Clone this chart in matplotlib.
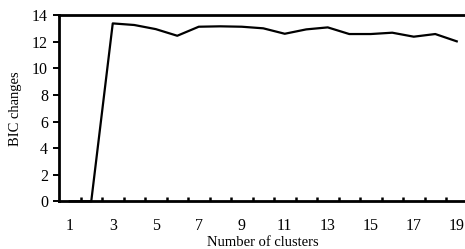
import numpy as np
import matplotlib.pyplot as plt

plt.rcParams['font.family'] = ['Liberation Serif', 'DejaVu Serif']

clusters = list(range(1, 20))
bic_changes = [0, 0, 13.39, 13.27, 12.96, 12.46, 13.14, 13.17, 13.14, 13.02,
               12.61, 12.94, 13.09, 12.59, 12.59, 12.69, 12.39, 12.59, 12.04]
x_labels = [str(c) for c in clusters[::2]]

fig = plt.figure(figsize=(4.65, 2.49), dpi=100)
ax = fig.add_axes([59 / 465, 1 - 201.3 / 249, 408.5 / 465, 186 / 249])

ax.plot(clusters, bic_changes, color='black', lw=1.6, clip_on=False)

ax.set_xlim(0.5, 19.5)
ax.set_ylim(0, 14)
ax.set_yticks(range(0, 15, 2))

ax.set_xticks(clusters[::2])
ax.set_xticklabels(x_labels)
ax.set_xticks(np.arange(1.5, 19, 1), minor=True)
ax.tick_params(axis='x', which='major', length=0, pad=12, labelsize=11.5)
ax.tick_params(axis='x', which='minor', direction='in', length=3, width=1.8)
ax.tick_params(axis='y', direction='out', length=4, width=1.4, pad=4, labelsize=11.5)

for s in ['left', 'bottom', 'top']:
    ax.spines[s].set_linewidth(2)
ax.spines['right'].set_visible(False)

ax.set_xlabel('Number of clusters', fontsize=10.5, labelpad=1.5)
ax.set_ylabel('BIC changes', fontsize=10.5, labelpad=7)

plt.savefig('out.png', dpi=100)
